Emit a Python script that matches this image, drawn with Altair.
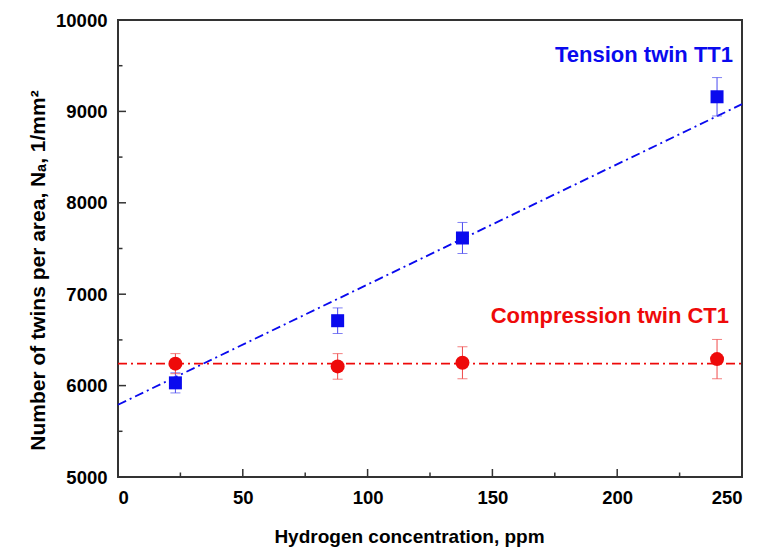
import altair as alt
import pandas as pd

# ---- data ----
conc = [23, 88, 138, 240]                      # hydrogen concentration, ppm
tt1_mean = [6030, 6710, 7615, 9160]            # tension twin TT1
tt1_err = [110, 140, 170, 210]
ct1_mean = [6240, 6210, 6250, 6290]            # compression twin CT1
ct1_err = [110, 140, 175, 215]

tt1_fit_x = [0, 250]
tt1_fit_y = [5790, 9080]
ct1_fit_x = [0, 250]
ct1_fit_y = [6240, 6240]

labels_text = ["Tension twin TT1", "Compression twin CT1"]
labels_x = [246.4, 244.8]
labels_y = [9540, 6685]

x_major = [0, 50, 100, 150, 200, 250]
x_minor = [25, 75, 125, 175, 225]
y_major = [5000, 6000, 7000, 8000, 9000, 10000]
y_minor = [5500, 6500, 7500, 8500, 9500]

BLUE = "#0a0aee"
RED = "#ee0a0a"
BLUE_ERR = "#4a4af0"
RED_ERR = "#f04a4a"
FONT = "Liberation Sans"
W, H = 624, 457
X_TITLE = "Hydrogen concentration, ppm"
Y_TITLE = "Number of twins per area, N\u2090, 1/mm\u00b2"

tt1 = pd.DataFrame({"x": conc, "y": tt1_mean,
                    "lo": [m - e for m, e in zip(tt1_mean, tt1_err)],
                    "hi": [m + e for m, e in zip(tt1_mean, tt1_err)]})
ct1 = pd.DataFrame({"x": conc, "y": ct1_mean,
                    "lo": [m - e for m, e in zip(ct1_mean, ct1_err)],
                    "hi": [m + e for m, e in zip(ct1_mean, ct1_err)]})
tt1_fit = pd.DataFrame({"x": tt1_fit_x, "y": tt1_fit_y})
ct1_fit = pd.DataFrame({"x": ct1_fit_x, "y": ct1_fit_y})
labels = pd.DataFrame({"t": labels_text, "x": labels_x, "y": labels_y,
                       "c": [BLUE, RED]})

xs = alt.Scale(domain=[0, 250], nice=False, zero=False)
ys = alt.Scale(domain=[5000, 10000], nice=False, zero=False)

x_axis = alt.Axis(values=x_major, format="d", labelPadding=11.5,
                  titleY=50, titleX=291, titleBaseline="top", titleAnchor="middle")
y_axis = alt.Axis(values=y_major, format="d", labelPadding=11, titleX=-80, titleY=250,
                  titleBaseline="middle", titleAngle=270, titleAlign="center",
                  titleFontSize=21)


def XE(field="x"):
    return alt.X(f"{field}:Q", scale=xs, axis=x_axis, title=X_TITLE)


def YE(field="y"):
    return alt.Y(f"{field}:Q", scale=ys, axis=y_axis, title=Y_TITLE)


dash = [9, 4, 2, 4]

blue_line = alt.Chart(tt1_fit).mark_line(color=BLUE, strokeWidth=1.8,
                                         strokeDash=dash).encode(x=XE(), y=YE())
red_line = alt.Chart(ct1_fit).mark_line(color=RED, strokeWidth=1.8,
                                        strokeDash=dash).encode(x=XE(), y=YE())


def err_layers(df, col):
    bar = alt.Chart(df).mark_rule(color=col, strokeWidth=1).encode(
        x=XE(), y=YE("lo"), y2="hi:Q")
    cap_lo = alt.Chart(df).mark_tick(color=col, thickness=1, size=10,
                                     orient="horizontal").encode(x=XE(), y=YE("lo"))
    cap_hi = alt.Chart(df).mark_tick(color=col, thickness=1, size=10,
                                     orient="horizontal").encode(x=XE(), y=YE("hi"))
    return [bar, cap_lo, cap_hi]


sq = alt.Chart(tt1).mark_point(shape="square", filled=True, opacity=1,
                               size=169, color=BLUE).encode(x=XE(), y=YE())
ci = alt.Chart(ct1).mark_point(shape="circle", filled=True, opacity=1,
                               size=196, color=RED).encode(x=XE(), y=YE())

txt = alt.Chart(labels).mark_text(align="right", baseline="alphabetic",
                                  font=FONT, fontWeight="bold",
                                  fontSize=22).encode(
    x=XE(), y=YE(), text="t:N", color=alt.Color("c:N", scale=None))

# inner ticks
xt_major = alt.Chart(pd.DataFrame({"x": x_major})).mark_rule(
    color="#333", strokeWidth=1.5).encode(x=XE(), y=alt.value(H), y2=alt.value(H - 8))
xt_minor = alt.Chart(pd.DataFrame({"x": x_minor})).mark_rule(
    color="#333", strokeWidth=1.5).encode(x=XE(), y=alt.value(H), y2=alt.value(H - 4.5))
yt_major = alt.Chart(pd.DataFrame({"y": y_major})).mark_rule(
    color="#333", strokeWidth=1.5).encode(y=YE(), x=alt.value(0), x2=alt.value(8))
yt_minor = alt.Chart(pd.DataFrame({"y": y_minor})).mark_rule(
    color="#333", strokeWidth=1.5).encode(y=YE(), x=alt.value(0), x2=alt.value(4.5))

layers = [blue_line, red_line] + err_layers(tt1, BLUE_ERR) + err_layers(ct1, RED_ERR) + \
    [sq, ci, txt, xt_major, xt_minor, yt_major, yt_minor]

chart = alt.layer(*layers).properties(
    width=W, height=H,
    autosize=alt.AutoSizeParams(type="none"),
    padding={"left": 110, "top": 12, "right": 10, "bottom": 78},
    background="white",
).configure_view(
    stroke="#333", strokeWidth=2
).configure_axis(
    grid=False, domain=False, ticks=False,
    labelFont=FONT, labelFontWeight="bold", labelFontSize=18.5, labelColor="black",
    titleFont=FONT, titleFontWeight="bold", titleFontSize=19, titleColor="black",
)

chart.save("out.html", embed_options={"renderer": "svg", "actions": False})
